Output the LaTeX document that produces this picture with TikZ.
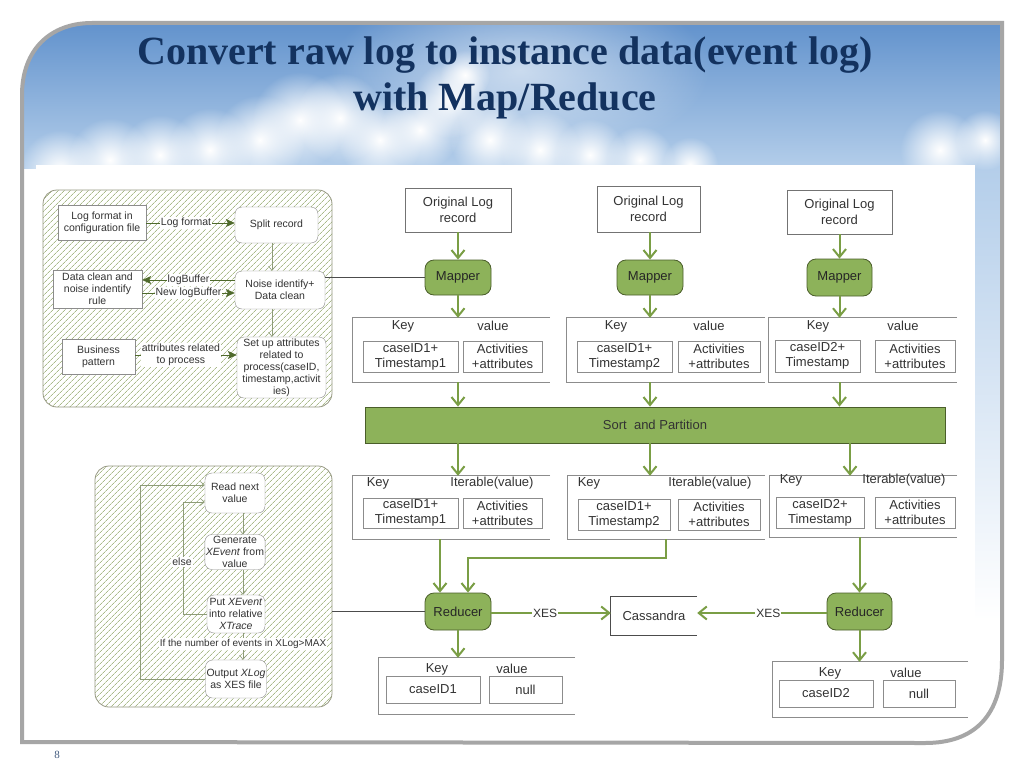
\documentclass[tikz,border=0pt]{standalone}
\usepackage{fontspec}
\setmainfont{Liberation Sans}
\newfontfamily\titlefont{Liberation Serif}
\usetikzlibrary{arrows.meta,patterns.meta,calc,fadings}
\tikzfading[name=cloudfade, inner color=transparent!0, outer color=transparent!100]
\definecolor{mgreen}{HTML}{8DB25A}
\definecolor{mborder}{HTML}{4A5E2A}
\definecolor{agreen}{HTML}{7A9E45}
\definecolor{hatchc}{HTML}{A9BA8A}
\definecolor{pborder}{HTML}{969882}
\definecolor{bgray}{HTML}{8C8C8C}
\definecolor{titleblue}{HTML}{13325F}
\definecolor{framec}{HTML}{A6A6A6}
\definecolor{skytop}{HTML}{5589C8}
\definecolor{skybot}{HTML}{B4CEEA}
\definecolor{parrow}{HTML}{8E9C78}
\definecolor{darkarr}{HTML}{4F6A2C}
\definecolor{txt}{HTML}{333333}
\begin{document}
\begin{tikzpicture}[x=1pt,y=-1pt,
  pbox/.style={draw=bgray, fill=white, font=\fontsize{10.5}{12}\selectfont, align=center, inner sep=1pt, text=txt},
  prbox/.style={pbox, rounded corners=7pt},
  obox/.style={draw=black!55, fill=white, font=\fontsize{13}{15.5}\selectfont, align=center, inner sep=1pt, text=txt},
  ibox/.style={draw=bgray, fill=white, font=\fontsize{13}{15}\selectfont, align=center, inner sep=1pt, text=txt},
  gnode/.style={fill=mgreen, draw=mborder, line width=0.8pt, rounded corners=9pt, font=\fontsize{13}{15}\selectfont, text=black!85, inner sep=1pt},
  kvframe/.style={inner sep=0pt},
  kvline/.style={draw=bgray, line width=0.8pt},
  lbl/.style={font=\fontsize{13}{15}\selectfont, inner sep=0pt, text=txt},
  garr/.style={draw=agreen, line width=2pt, -{Straight Barb[length=8pt,width=13pt]}},
  parr/.style={draw=parrow, line width=0.6pt, -{Straight Barb[length=4pt,width=7pt]}},
  pline/.style={draw=darkarr, line width=0.7pt},
  darr/.style={draw=darkarr, line width=0.7pt, -{Stealth[length=9pt,width=8pt,inset=2pt]}},
  hpanel/.style={draw=pborder, line width=0.8pt, rounded corners=14pt, preaction={fill=white}, pattern={Lines[angle=45,distance=4pt,line width=0.8pt]}, pattern color=hatchc},
  plabel/.style={font=\fontsize{10.5}{12}\selectfont, fill=white, inner sep=1pt, align=center, text=txt},
  xlabel/.style={font=\fontsize{12}{14}\selectfont, fill=white, inner sep=1pt, text=txt},
  cloud/.style={fill=white, path fading=cloudfade}
]
\useasboundingbox (0,0) rectangle (1024,768);
\fill[white] (0,0) rectangle (1024,768);
% sky background
\begin{scope}
\clip (22,742) -- (22,95) .. controls (22,50) and (50,23) .. (92,23) -- (1002,23) -- (1002,660) .. controls (1002,715) and (975,743) .. (925,743) -- cycle;
\fill[top color=skytop, bottom color=skybot] (0,0) rectangle (1024,168);
\fill[top color=skybot, bottom color=white] (960,168) rectangle (1024,620);
\fill[cloud, opacity=.6] (520,70) ellipse (190 and 90);
\foreach \cx/\cy/\r in {60/170/40, 110/160/42, 160/155/40, 210/150/42, 260/140/45, 300/120/48, 340/118/45, 380/140/42, 420/130/40, 450/100/38, 465/75/25, 490/140/40, 540/150/40, 590/155/36, 640/160/34, 690/165/28, 940/150/40, 985/140/30}
  \fill[cloud] (\cx,\cy) circle (\r);
\end{scope}
\fill[white] (36,165) rectangle (975,735);
\draw[framec, line width=4pt] (22,742) -- (22,95) .. controls (22,50) and (50,23) .. (92,23) -- (1002,23) -- (1002,660) .. controls (1002,715) and (975,743) .. (925,743) -- cycle;

% title
\node[font=\titlefont\bfseries\fontsize{40}{46}\selectfont, text=titleblue, anchor=base] (t1) at (505,64) {Convert raw log to instance data(event log)};
\node[font=\titlefont\bfseries\fontsize{40}{46}\selectfont, text=titleblue, anchor=base] (t2) at (505,110) {with Map/Reduce};
\node[font=\titlefont\fontsize{11}{13}\selectfont, text=titleblue!80] (pg) at (57,755) {8};

% panel 1
\draw[hpanel] (43,190) rectangle (332,407);
\node[pbox, minimum width=88pt, minimum height=35pt] (LF) at (102,222.5) {Log format in\\configuration file};
\node[prbox, minimum width=83pt, minimum height=36pt] (SR) at (276.5,225) {Split record};
\node[prbox, minimum width=90pt, minimum height=38pt] (NI) at (280,290) {Noise identify+\\Data clean};
\node[pbox, minimum width=89pt, minimum height=38pt] (DR) at (97.5,289) {Data clean and\\noise indentify\\rule};
\node[pbox, minimum width=73pt, minimum height=35pt] (BP) at (98.5,356.5) {Business\\pattern};
\node[prbox, minimum width=89pt, minimum height=61pt] (SU) at (281.5,367.5) {Set up attributes\\related to\\process(caseID,\\timestamp,activit\\ies)};
\draw[darr] (LF.east |- 0,223) -- node[plabel, pos=.45] {Log format} (SR.west |- 0,223);
\draw[darr] (NI.west |- 0,280) -- node[plabel, pos=.5] {logBuffer} (DR.east |- 0,280);
\draw[darr] (DR.east |- 0,293) -- node[plabel, pos=.5] {New logBuffer} (NI.west |- 0,293);
\draw[darr] (BP.east |- 0,355) -- node[plabel, pos=.45] {attributes related\\to process} (SU.west |- 0,355);
\draw[parr] (SR.south -| 272,0) -- (NI.north -| 272,0);
\draw[parr] (NI.south -| 272,0) -- (SU.north -| 272,0);

% panel 2
\draw[hpanel] (95,466) rectangle (332,707);
\node[prbox, minimum width=60pt, minimum height=40pt] (RN) at (235,493) {Read next\\value};
\node[prbox, minimum width=60pt, minimum height=35pt] (GE) at (235,552) {Generate\\\textit{XEvent} from\\value};
\node[prbox, minimum width=58pt, minimum height=38pt] (PX) at (236,614) {Put \textit{XEvent}\\into relative\\\textit{XTrace}};
\node[prbox, minimum width=58pt, minimum height=38pt] (OX) at (236,679) {Output \textit{XLog}\\as XES file};
\draw[parr] (RN.south -| 243,0) -- (GE.north -| 243,0);
\draw[parr] (GE.south -| 243,0) -- (PX.north -| 243,0);
\draw[parr] (PX.south -| 243,0) -- node[plabel, font=\fontsize{10}{11.5}\selectfont, pos=.4] {If the number of events in XLog>MAX} (OX.north -| 243,0);
\coordinate (e1) at (183,502);
\coordinate (e2) at (140,485);
\draw[parr] (PX.west) -| (e1) -- (e1 -| RN.west);
\node[plabel] (else) at (182,562) {else};
\draw[parr] (OX.west) -| (e2) -- (e2 -| RN.west);

% originals and mappers
\node[obox, minimum width=106pt, minimum height=44pt] (O1) at (458,210) {Original Log\\record};
\node[obox, minimum width=103pt, minimum height=46pt] (O2) at (648.5,209) {Original Log\\record};
\node[obox, minimum width=105pt, minimum height=44pt] (O3) at (839.5,212) {Original Log\\record};
\node[gnode, minimum width=66pt, minimum height=35pt] (M1) at (458,277.5) {Mapper};
\node[gnode, minimum width=66pt, minimum height=35pt] (M2) at (650,277.5) {Mapper};
\node[gnode, minimum width=65pt, minimum height=37pt] (M3) at (839.5,277.5) {Mapper};
\draw[garr] (O1.south -| M1.south) -- (M1.north);
\draw[garr] (O2.south -| M2.south) -- (M2.north);
\draw[garr] (O3.south -| M3.south) -- (M3.north);
\draw[pline, draw=black!70] (M1.west -| NI.east) -- (M1.west);

% map output boxes
\node[kvframe, minimum width=197pt, minimum height=64pt] (K1) at (451.5,350) {};
\node[kvframe, minimum width=198pt, minimum height=64pt] (K2) at (666,350) {};
\node[kvframe, minimum width=188pt, minimum height=64pt] (K3) at (863,350) {};
\foreach \k in {K1,K2,K3} \draw[kvline] (\k.north east) -- (\k.north west) -- (\k.south west) -- (\k.south east);
\node[lbl] (K1k) at (403,326) {Key};
\node[lbl] (K1v) at (493,326) {value};
\node[lbl] (K2k) at (616,326) {Key};
\node[lbl] (K2v) at (709,326) {value};
\node[lbl] (K3k) at (818,326) {Key};
\node[lbl] (K3v) at (903,326) {value};
\node[ibox, minimum width=95pt, minimum height=31pt] (K1a) at (410.5,356.5) {caseID1+\\Timestamp1};
\node[ibox, minimum width=79pt, minimum height=31pt] (K1b) at (502.5,356.5) {Activities\\+attributes};
\node[ibox, minimum width=95pt, minimum height=31pt] (K2a) at (624.5,356.5) {caseID1+\\Timestamp2};
\node[ibox, minimum width=82pt, minimum height=31pt] (K2b) at (719,356.5) {Activities\\+attributes};
\node[ibox, minimum width=85pt, minimum height=32pt] (K3a) at (817.5,356) {caseID2+\\Timestamp};
\node[ibox, minimum width=80pt, minimum height=32pt] (K3b) at (915,356) {Activities\\+attributes};
\draw[garr] (M1.south) -- (M1.south |- K1.north);
\draw[garr] (M2.south) -- (M2.south |- K2.north);
\draw[garr] (M3.south) -- (M3.south |- K3.north);

% sort and partition
\node[fill=mgreen, draw=mborder, line width=0.8pt, minimum width=580pt, minimum height=36pt, font=\fontsize{13}{15}\selectfont, text=txt] (S) at (655,425) {Sort\ \ and Partition};
\draw[garr] (M1.south |- K1.south) -- (M1.south |- S.north);
\draw[garr] (M2.south |- K2.south) -- (M2.south |- S.north);
\draw[garr] (M3.south |- K3.south) -- (M3.south |- S.north);

% iterable boxes
\node[kvframe, minimum width=197pt, minimum height=63pt] (I1) at (451.5,507.5) {};
\node[kvframe, minimum width=197pt, minimum height=63pt] (I2) at (666.5,507.5) {};
\node[kvframe, minimum width=187pt, minimum height=61pt] (I3) at (863.5,506.5) {};
\foreach \k in {I1,I2,I3} \draw[kvline] (\k.north east) -- (\k.north west) -- (\k.south west) -- (\k.south east);
\node[lbl] (I1k) at (378,483) {Key};
\node[lbl] (I1v) at (492,483) {Iterable(value)};
\node[lbl] (I2k) at (589,483) {Key};
\node[lbl] (I2v) at (710,483) {Iterable(value)};
\node[lbl] (I3k) at (791,480) {Key};
\node[lbl] (I3v) at (904,480) {Iterable(value)};
\node[ibox, minimum width=95pt, minimum height=30pt] (I1a) at (410.5,513) {caseID1+\\Timestamp1};
\node[ibox, minimum width=79pt, minimum height=30pt] (I1b) at (502.5,513) {Activities\\+attributes};
\node[ibox, minimum width=92pt, minimum height=31pt] (I2a) at (624,514.5) {caseID1+\\Timestamp2};
\node[ibox, minimum width=82pt, minimum height=31pt] (I2b) at (719,514.5) {Activities\\+attributes};
\node[ibox, minimum width=88pt, minimum height=31pt] (I3a) at (820,512.5) {caseID2+\\Timestamp};
\node[ibox, minimum width=80pt, minimum height=31pt] (I3b) at (915,512.5) {Activities\\+attributes};
\draw[garr] (S.south -| 458,0) -- (I1.north -| 458,0);
\draw[garr] (S.south -| 650,0) -- (I2.north -| 650,0);
\draw[garr] (S.south -| 850,0) -- (I3.north -| 850,0);

% reducers
\node[gnode, minimum width=66pt, minimum height=37pt] (R1) at (458,611.5) {Reducer};
\node[gnode, minimum width=65pt, minimum height=37pt] (R2) at (859.5,611.5) {Reducer};
\node[inner sep=0pt, minimum width=86pt, minimum height=38pt, font=\fontsize{13}{15}\selectfont, text=txt] (C) at (654,616) {Cassandra};
\draw[draw=black!70, line width=0.8pt] (C.north east) -- (C.north west) -- (C.south west) -- (C.south east);
\coordinate (j1) at (666,558);
\coordinate (j2) at (468,558);
\draw[garr] (I1.south -| 440,0) -- (R1.north -| 440,0);
\draw[garr] (I2.south -| j1) -- (j1) -- (j2) -- (R1.north -| j2);
\draw[garr] (I3.south -| R2.north) -- (R2.north);
\draw[garr] (R1.east |- 0,613) -- node[xlabel, pos=.45] {XES} (C.west |- 0,613);
\draw[garr] (R2.west |- 0,613) -- node[xlabel, pos=.45] {XES} (C.east |- 0,613);
\draw[pline, draw=black!70] (R1.west -| 332,0) -- (R1.west);

% reduce output
\node[kvframe, minimum width=196pt, minimum height=56pt] (U1) at (477,686) {};
\node[kvframe, minimum width=195pt, minimum height=55pt] (U2) at (870.5,689.5) {};
\foreach \k in {U1,U2} \draw[kvline] (\k.north east) -- (\k.north west) -- (\k.south west) -- (\k.south east);
\node[lbl] (U1k) at (437,669) {Key};
\node[lbl] (U1v) at (512,669) {value};
\node[lbl] (U2k) at (830,673) {Key};
\node[lbl] (U2v) at (906,673) {value};
\node[ibox, minimum width=94pt, minimum height=27pt] (U1a) at (433,689.5) {caseID1};
\node[ibox, minimum width=73pt, minimum height=27pt] (U1b) at (525.5,689.5) {null};
\node[ibox, minimum width=94pt, minimum height=27pt] (U2a) at (826,693.5) {caseID2};
\node[ibox, minimum width=72pt, minimum height=27pt] (U2b) at (919,693.5) {null};
\draw[garr] (R1.south) -- (R1.south |- U1.north);
\draw[garr] (R2.south) -- (R2.south |- U2.north);
\end{tikzpicture}
\end{document}
